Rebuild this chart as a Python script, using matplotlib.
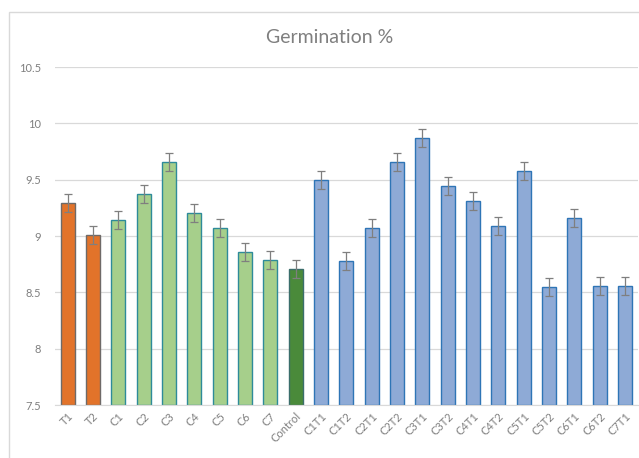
import matplotlib
matplotlib.use('Agg')
import matplotlib.pyplot as plt
from matplotlib.patches import Rectangle
import numpy as np

plt.rcParams['font.family'] = ['Lato', 'DejaVu Sans']

# values
labels = ['T1', 'T2', 'C1', 'C2', 'C3', 'C4', 'C5', 'C6', 'C7', 'Control',
          'C1T1', 'C1T2', 'C2T1', 'C2T2', 'C3T1', 'C3T2', 'C4T1', 'C4T2',
          'C5T1', 'C5T2', 'C6T1', 'C6T2', 'C7T1']
germination = [9.29, 9.01, 9.14, 9.37, 9.66, 9.20, 9.07, 8.86, 8.79, 8.71,
               9.50, 8.78, 9.07, 9.66, 9.87, 9.44, 9.31, 9.09,
               9.58, 8.55, 9.16, 8.56, 8.56]
errors = [0.08] * len(labels)
groups = ['T'] * 2 + ['C'] * 7 + ['ctrl'] + ['CT'] * 13

face = {'T': '#E2732A', 'C': '#A6CF8B', 'ctrl': '#4A8A3A', 'CT': '#8EAAD6'}
edge = {'T': '#6E6A68', 'C': '#2E8B9A', 'ctrl': '#3B6E6B', 'CT': '#2E75B6'}

fig = plt.figure(figsize=(6.39, 4.58), dpi=100)
ax = fig.add_axes([0.086, 0.1157, 0.912, 0.738])

# outer chart frame
fig.patches.append(Rectangle((9 / 639, -0.05), 1.0, 0.974 + 0.05,
                             transform=fig.transFigure, fill=False,
                             edgecolor='#D9D9D9', linewidth=1.0))

x = np.arange(len(labels))
ax.bar(x, [v - 7.5 for v in germination], bottom=7.5, width=0.55,
       color=[face[g] for g in groups],
       edgecolor=[edge[g] for g in groups], linewidth=1.0, zorder=2)
ax.errorbar(x, germination, yerr=errors, fmt='none', ecolor='#7F7F7F',
            elinewidth=0.9, capsize=3, capthick=0.9, zorder=3)

ax.set_ylim(7.5, 10.5)
ax.set_xlim(-0.5, len(labels) - 0.5)
ax.set_yticks([7.5, 8, 8.5, 9, 9.5, 10, 10.5])
ax.set_yticklabels(['7.5', '8', '8.5', '9', '9.5', '10', '10.5'])
ax.set_xticks(x)
ax.set_xticklabels(labels, rotation=45, ha='right', rotation_mode='anchor')
ax.tick_params(axis='both', length=0, labelsize=8, colors='#7F7F7F')
ax.tick_params(axis='y', pad=10)
ax.tick_params(axis='x', pad=4)
ax.grid(axis='y', color='#D9D9D9', linewidth=0.9, zorder=0)
ax.set_axisbelow(True)
for s in ['top', 'right', 'left']:
    ax.spines[s].set_visible(False)
ax.spines['bottom'].set_color('#D9D9D9')

fig.text(0.516, 0.918, 'Germination %', ha='center', va='center',
         fontsize=14, color='#7F7F7F')

fig.savefig('out.png', dpi=100)
